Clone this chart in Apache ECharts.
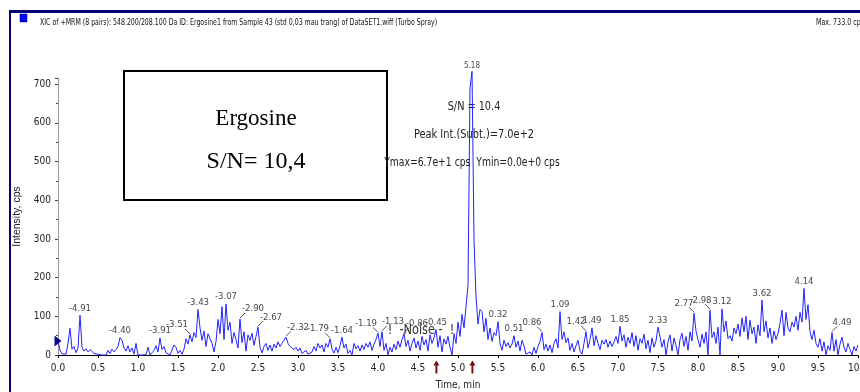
<!DOCTYPE html>
<html>
<head>
<meta charset="utf-8">
<title>XIC Ergosine</title>
<script src="https://cdn.jsdelivr.net/npm/echarts@6/dist/echarts.min.js"></script>
<style>
  html, body { margin: 0; padding: 0; background: #fff; }
  #xic-chart { width: 860px; height: 392px; }
</style>
</head>
<body>
<div id="xic-chart"></div>
<script>
// Cromatograma XIC (MRM) de Ergosine - señal de intensidad vs tiempo

// Muestreo de la traza (min)
const tiempoInicio = 0;
const pasoTiempo = 0.025;

// Intensidad (cps), un valor cada 0.025 min, de 0.0 a 10.0
const intensidad = [
  38, 12, 3, 8, 2, 30, 69, 15, 22, 6, 18, 103, 20, 10, 16, 8, 14, 12, 4, 9,
  2, 6, 0, 3, 0, 12, 4, 15, 8, 14, 22, 45, 38, 18, 10, 24, 8, 18, 2, 30,
  0, 2, 0, 0, 1, 20, 0, 4, 12, 24, 8, 44, 14, 22, 6, 10, 0, 5, 26, 20,
  4, 12, 2, 15, 42, 28, 52, 34, 58, 45, 118, 70, 38, 62, 22, 55, 60, 30, 8, 35,
  92, 55, 125, 40, 132, 64, 85, 30, 58, 40, 18, 93, 32, 60, 10, 52, 38, 56, 25, 48,
  72, 20, 5, 22, 30, 12, 26, 10, 28, 18, 34, 22, 30, 38, 46, 30, 22, 26, 14, 20,
  10, 18, 4, 0, 12, 2, 0, 8, 22, 10, 30, 18, 26, 8, 30, 20, 42, 15, 5, 20,
  6, 24, 46, 18, 28, 4, 12, 0, 30, 16, 24, 10, 26, 14, 30, 20, 34, 12, 28, 40,
  56, 22, 60, 12, 30, 0, 20, 8, 28, 14, 36, 20, 40, 55, 22, 38, 10, 30, 44, 18,
  36, 12, 48, 26, 40, 10, 52, 30, 44, 66, 20, 50, 8, 42, 28, 48, 20, 0, 55, 30,
  85, 48, 105, 70, 125, 180, 690, 733, 300, 150, 80, 118, 112, 60, 95, 40, 70, 35, 58, 50,
  86, 30, 12, 38, 22, 32, 18, 28, 50, 20, 36, 10, 38, 24, 2, 0, 8, 0, 20, 4,
  22, 35, 58, 14, 28, 10, 26, 6, 30, 42, 18, 112, 40, 60, 32, 44, 12, 30, 8, 24,
  38, 10, 2, 30, 60, 18, 40, 70, 24, 50, 30, 14, 38, 28, 40, 20, 36, 22, 34, 48,
  30, 74, 36, 52, 20, 46, 30, 58, 22, 50, 12, 42, 30, 54, 16, 38, 6, 44, 20, 36,
  72, 48, 20, 40, 0, 34, 52, 10, 44, 24, 0, 40, 56, 22, 48, 12, 60, 36, 108, 62,
  40, 20, 54, 30, 60, 0, 116, 45, 60, 30, 72, 0, 119, 60, 88, 42, 50, 36, 70, 55,
  80, 48, 96, 60, 100, 40, 90, 55, 72, 30, 78, 50, 142, 60, 88, 44, 70, 30, 62, 40,
  55, 82, 116, 50, 110, 70, 60, 85, 72, 100, 64, 110, 85, 172, 92, 130, 60, 40, 64, 30,
  20, 42, 10, 34, 0, 24, 12, 58, 10, 40, 0, 28, 46, 20, 8, 30, 14, 0, 22, 10,
  26
];

// Picos etiquetados (tiempo relativo al pico principal 5.18)
const picosTiempo = [0.275, 0.775, 1.275, 1.65, 1.75, 2.1, 2.275, 2.5, 2.85, 3.4, 3.55, 4.0, 4.05,
  4.325, 4.725, 5.175, 5.5, 5.7, 6.05, 6.275, 6.6, 6.675, 7.025, 7.5, 7.95, 8.15, 8.3, 8.8, 9.325, 9.675];
const picosAltura = [103, 45, 44, 52, 118, 132, 93, 72, 46, 42, 46, 56, 60,
  55, 66, 733, 86, 50, 58, 112, 60, 70, 74, 72, 108, 116, 119, 142, 172, 58];
const picosEtiqueta = ['-4.91', '-4.40', '-3.91', '-3.51', '-3.43', '-3.07', '-2.90', '-2.67', '-2.32', '-1.79',
  '-1.64', '-1.19', '-1.13', '-0.86', '-0.45', '5.18', '0.32', '0.51', '0.86', '1.09', '1.42', '1.49', '1.85',
  '2.33', '2.77', '2.98', '3.12', '3.62', '4.14', '4.49'];

// Flechas de la ventana de ruido / pico
const flechasTiempo = [4.73, 5.18];

// Ejes
const ejeXMax = 10;
const ejeYMax = 716;

// Desplazamiento horizontal de las etiquetas con línea guía (px)
const guiaEtiquetas = {
  '-3.51': -13, '-2.90': 13, '-2.67': 13, '-2.32': 12, '-1.79': -12, '-1.19': -12,
  '-1.13': 11, '-0.86': 13, '0.86': -10, '1.42': -10, '2.77': -10, '2.98': -8, '4.49': 10
};

const fuenteEstrecha = "'DejaVu Sans Condensed', 'Liberation Sans', sans-serif";

function initXicChart() {
  const chart = echarts.init(document.getElementById('xic-chart'), null, { renderer: 'canvas' });

  const traza = intensidad.map((v, i) => [tiempoInicio + i * pasoTiempo, v]);
  const picos = picosTiempo.map((t, i) => {
    const item = { value: [t, picosAltura[i]], name: picosEtiqueta[i] };
    if (picosEtiqueta[i] === '5.18') item.label = { fontSize: 8 };
    return item;
  });
  // Líneas guía: pico -> etiqueta desplazada
  const guias = picosTiempo
    .map((t, i) => [t, picosAltura[i], Math.sign(guiaEtiquetas[picosEtiqueta[i]] || 0)])
    .filter(d => d[2] !== 0);

  const option = {
    animation: false,
    grid: { left: 58, right: 2, top: 78, bottom: 37, containLabel: false, outerBoundsMode: 'none' },
    xAxis: {
      type: 'value',
      min: 0,
      max: ejeXMax,
      interval: 0.5,
      name: 'Time, min',
      nameLocation: 'middle',
      nameGap: 25,
      nameMoveOverlap: false,
      nameTextStyle: { fontFamily: fuenteEstrecha, fontSize: 10, color: '#222' },
      axisLine: { lineStyle: { color: '#000', width: 1 } },
      axisTick: { length: 3, lineStyle: { color: '#000' } },
      axisLabel: {
        margin: 8,
        fontFamily: fuenteEstrecha,
        fontSize: 10,
        color: '#222',
        formatter: v => v.toFixed(1)
      },
      splitLine: { show: false }
    },
    yAxis: {
      type: 'value',
      min: 0,
      max: ejeYMax,
      interval: 100,
      name: 'Intensity, cps',
      nameLocation: 'middle',
      nameGap: 35,
      nameMoveOverlap: false,
      nameTextStyle: { fontFamily: "'Liberation Sans', sans-serif", fontSize: 10.5, color: '#222' },
      axisLine: { show: true, lineStyle: { color: '#999', width: 1 } },
      axisTick: { length: 3, lineStyle: { color: '#444' } },
      minorTick: { show: true, splitNumber: 2, length: 2, lineStyle: { color: '#444' } },
      axisLabel: {
        margin: 7,
        fontFamily: fuenteEstrecha,
        fontSize: 10,
        color: '#222',
        showMaxLabel: false,
        formatter: v => (v % 100 === 0 ? String(v) : '')
      },
      splitLine: { show: false }
    },
    series: [
      {
        name: 'XIC',
        type: 'line',
        data: traza,
        symbol: 'none',
        clip: false,
        lineStyle: { color: '#2222ff', width: 1 },
        markPoint: {
          symbol: 'triangle',
          symbolRotate: -90,
          symbolSize: [11, 7],
          itemStyle: { color: '#0a0a8c' },
          label: { show: false },
          data: [{ coord: [0, 36] }]
        }
      },
      {
        name: 'Picos',
        type: 'scatter',
        data: picos,
        symbolSize: 0,
        clip: false,
        silent: true,
        label: {
          show: true,
          position: 'top',
          distance: 2,
          fontFamily: fuenteEstrecha,
          fontSize: 9.5,
          color: '#111',
          formatter: p => p.name
        },
        labelLayout: function (params) {
          const dx = guiaEtiquetas[picosEtiqueta[params.dataIndex]];
          return dx ? { dx: dx, dy: -3 } : {};
        },
        markPoint: {
          symbol: 'path://M5,0 L10,6 L6.6,6 L6.6,16 L3.4,16 L3.4,6 L0,6 Z',
          symbolSize: [6, 13],
          symbolOffset: [0, 12],
          itemStyle: { color: '#7a0c0c' },
          label: { show: false },
          data: flechasTiempo.map(t => ({ coord: [t, 0] }))
        }
      },
      {
        name: 'Guías',
        type: 'custom',
        data: guias,
        clip: false,
        silent: true,
        renderItem: function (params, api) {
          const p = api.coord([api.value(0), api.value(1)]);
          const dir = api.value(2);
          return {
            type: 'line',
            shape: { x1: p[0], y1: p[1] - 1, x2: p[0] + dir * 5, y2: p[1] - 6 },
            style: { stroke: '#222', lineWidth: 0.8 }
          };
        }
      }
    ],
    graphic: [
      // Marco superior e izquierdo
      { type: 'rect', shape: { x: 9, y: 10, width: 851, height: 3 }, style: { fill: '#00007a' }, silent: true },
      { type: 'rect', shape: { x: 9, y: 10, width: 2, height: 382 }, style: { fill: '#00007a' }, silent: true },
      { type: 'rect', shape: { x: 20, y: 14, width: 7, height: 8 }, style: { fill: '#0000ff', stroke: '#000044', lineWidth: 0.5 }, silent: true },
      {
        type: 'text', x: 40, y: 23, scaleX: 0.73,
        style: {
          text: 'XIC of +MRM (8 pairs): 548.200/208.100 Da ID: Ergosine1 from Sample 43 (std 0,03 mau trang) of DataSET1.wiff (Turbo Spray)',
          font: "9.5px " + fuenteEstrecha, fill: '#111', verticalAlign: 'middle'
        }
      },
      {
        type: 'text', x: 816, y: 23, scaleX: 0.74,
        style: { text: 'Max. 733.0 cps.', font: "9.5px " + fuenteEstrecha, fill: '#111', verticalAlign: 'middle' }
      },
      // Recuadro con el nombre del analito
      { type: 'rect', shape: { x: 124, y: 71, width: 263, height: 129 }, style: { fill: 'transparent', stroke: '#000', lineWidth: 2 }, silent: true },
      {
        type: 'text', x: 256, y: 119,
        style: { text: 'Ergosine', font: "23px 'Liberation Serif', serif", fill: '#000', align: 'center', verticalAlign: 'middle' }
      },
      {
        type: 'text', x: 256, y: 162,
        style: { text: 'S/N= 10,4', font: "24px 'Liberation Serif', serif", fill: '#000', align: 'center', verticalAlign: 'middle' }
      },
      // Resultado del cálculo S/N
      {
        type: 'text', x: 474, y: 107, scaleX: 0.83,
        style: { text: 'S/N = 10.4', font: "13px " + fuenteEstrecha, fill: '#222', align: 'center', verticalAlign: 'middle' }
      },
      {
        type: 'text', x: 474, y: 135, scaleX: 0.84,
        style: { text: 'Peak Int.(Subt.)=7.0e+2', font: "13px " + fuenteEstrecha, fill: '#222', align: 'center', verticalAlign: 'middle' }
      },
      {
        type: 'text', x: 472, y: 163, scaleX: 0.79,
        style: { text: 'Ymax=6.7e+1 cps  Ymin=0.0e+0 cps', font: "13px " + fuenteEstrecha, fill: '#222', align: 'center', verticalAlign: 'middle' }
      },
      {
        type: 'text', x: 421, y: 330, scaleX: 0.9,
        style: { text: '!  -Noise -  !', font: "14px " + fuenteEstrecha, fill: '#333', align: 'center', verticalAlign: 'middle' }
      }
    ]
  };

  chart.setOption(option);
  window.addEventListener('resize', () => chart.resize());
  return chart;
}

window.xicChart = initXicChart();
</script>
</body>
</html>
